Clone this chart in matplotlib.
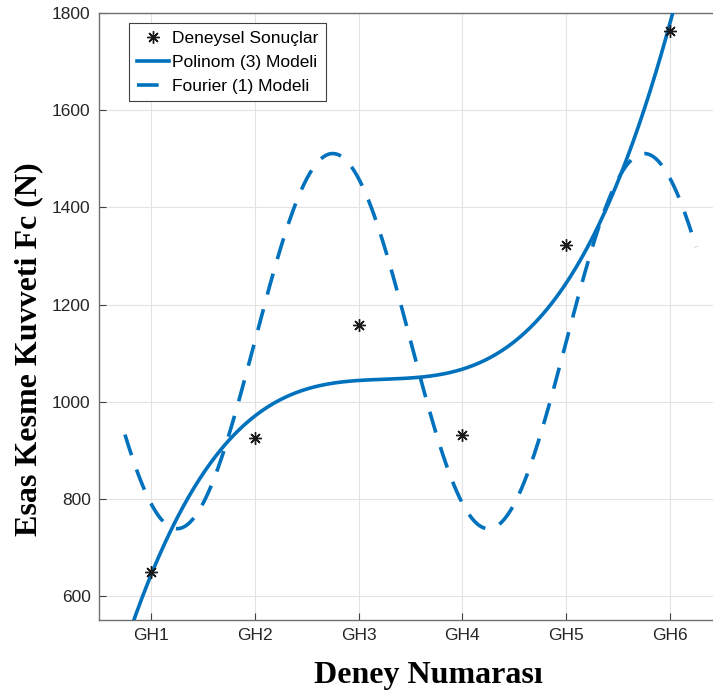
import numpy as np
import matplotlib
matplotlib.use("Agg")
import matplotlib.pyplot as plt

# Data
categories = ["GH1", "GH2", "GH3", "GH4", "GH5", "GH6"]
x_data = [1, 2, 3, 4, 5, 6]
fc_values = [650, 925, 1157, 932, 1323, 1762]
y_ticks = [600, 800, 1000, 1200, 1400, 1600, 1800]

x = np.array(x_data, dtype=float)
y = np.array(fc_values, dtype=float)

# Models fitted to the data
poly_coef = np.polyfit(x, y, 3)
w = 2 * np.pi / 3
A = np.column_stack([np.ones_like(x), np.cos(w * x), np.sin(w * x)])
four_coef, *_ = np.linalg.lstsq(A, y, rcond=None)

xx = np.linspace(0.75, 6.25, 400)
poly_y = np.polyval(poly_coef, xx)
four_y = four_coef[0] + four_coef[1] * np.cos(w * xx) + four_coef[2] * np.sin(w * xx)

blue = "#0072BD"
fig = plt.figure(figsize=(7.13, 6.93), dpi=100)
ax = fig.add_axes([99 / 713, 73 / 693, 623 / 713, 607 / 693])

ax.plot(x, y, linestyle="none", marker=(8, 2, 0), markersize=9, color="#1a1a1a",
        markeredgewidth=1.0, label="Deneysel Sonuçlar", zorder=4)
ax.plot(xx, poly_y, color=blue, lw=2.6, label="Polinom (3) Modeli", zorder=3)
ax.plot(xx, four_y, color=blue, lw=2.6, dashes=(6.0, 4.2), label="Fourier (1) Modeli", zorder=3)

ax.set_xlim(0.5, 6.5)
ax.set_ylim(551, 1800)
ax.set_xticks(x_data)
ax.set_xticklabels(categories)
ax.set_yticks(y_ticks)
ax.grid(True, color="#e3e3e3", lw=0.8)
ax.set_axisbelow(True)
ax.tick_params(direction="in", length=5, color="#404040", labelsize=12.5, labelcolor="#262626", pad=6)
for lab in ax.get_xticklabels() + ax.get_yticklabels():
    lab.set_family("Liberation Sans")
for s in ax.spines.values():
    s.set_color("#707070")
    s.set_linewidth(1.0)

ax.set_xlabel("Deney Numarası", fontsize=23, fontweight="bold", family="Liberation Serif")
ax.xaxis.set_label_coords(0.529, -0.068)
ax.set_ylabel("Esas Kesme Kuvveti Fc (N)", fontsize=23, fontweight="bold", family="Liberation Serif")
ax.yaxis.set_label_coords(-0.09, 0.446)

leg = ax.legend(loc="upper left", bbox_to_anchor=(0.048, 0.9835), prop={"family": "Liberation Sans", "size": 12.5},
                frameon=True, fancybox=False, edgecolor="#404040", framealpha=1,
                handlelength=1.85, handletextpad=0.2, borderpad=0.45, labelspacing=0.5,
                borderaxespad=0)
leg.get_frame().set_linewidth(0.8)

fig.savefig("out.png", dpi=100)
